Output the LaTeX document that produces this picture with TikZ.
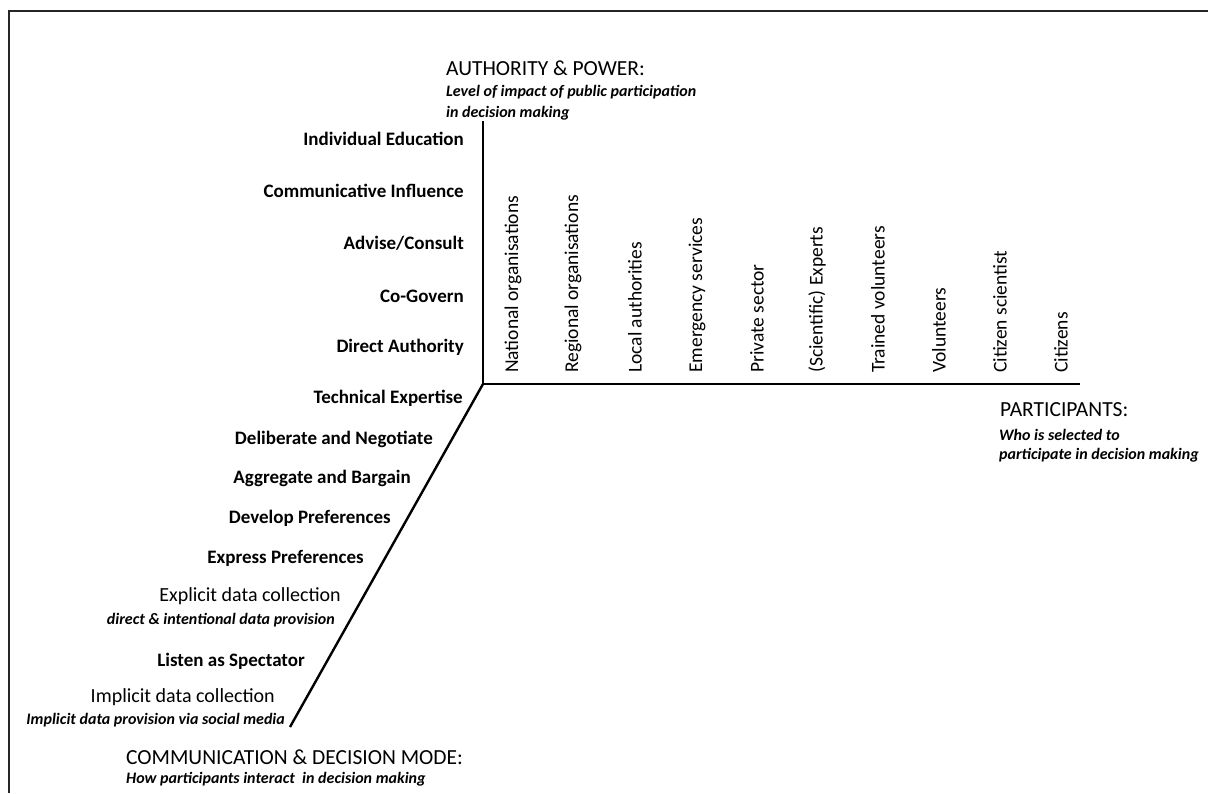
\documentclass[tikz,border=0pt]{standalone}
\usepackage{fontspec}
\setmainfont{Carlito}
\begin{document}
\begin{tikzpicture}[x=1pt,y=-1pt,
  frameline/.style={line width=1.8pt, black!85},
  axisline/.style={line width=2.4pt, black},
  levellbl/.style={anchor=east, inner sep=0pt, font=\fontsize{19}{22}\selectfont\bfseries},
  modelbl/.style={anchor=east, inner sep=0pt, font=\fontsize{20}{22}\selectfont},
  partlbl/.style={rotate=90, anchor=west, inner sep=0pt, font=\fontsize{19.5}{22}\selectfont},
  titlelbl/.style={anchor=west, inner sep=0pt, font=\fontsize{21.5}{24}\selectfont},
  sublbl/.style={anchor=west, inner sep=0pt, font=\fontsize{16}{18}\selectfont\bfseries\itshape},
  subrlbl/.style={anchor=east, inner sep=0pt, font=\fontsize{16}{18}\selectfont\bfseries\itshape}
]
\useasboundingbox (0,0) rectangle (1208,793);
\fill[white] (0,0) rectangle (1208,793);
% frame
\coordinate (ftl) at (9,11);
\coordinate (ftr) at (1208,11);
\coordinate (fbl) at (9,793);
\draw[frameline] (ftr) -- (ftl) -- (fbl);
% axes
\coordinate (O) at (483,384);
\coordinate (Ytop) at (483,121);
\coordinate (Xend) at (1080,384);
\coordinate (Zend) at (290,727);
\draw[axisline] (Ytop) -- (O) -- (Xend);
\draw[axisline] (O) -- (Zend);
% authority title
\node[titlelbl] (auth) at (446,68) {AUTHORITY \& POWER:};
\node[sublbl] (auths1) at (446,92) {Level of impact of public participation};
\node[sublbl] (auths2) at (446,113) {in decision making};
% authority levels
\node[levellbl] (l1) at (464,139) {Individual Education};
\node[levellbl] (l2) at (464,191) {Communicative Influence};
\node[levellbl] (l3) at (464,243) {Advise/Consult};
\node[levellbl] (l4) at (464,296) {Co-Govern};
\node[levellbl] (l5) at (464,347) {Direct Authority};
% participants
\node[partlbl] (p1) at (513,373) {National organisations};
\node[partlbl] (p2) at (573,373) {Regional organisations};
\node[partlbl] (p3) at (635,373) {Local authorities};
\node[partlbl] (p4) at (697,373) {Emergency services};
\node[partlbl] (p5) at (757,373) {Private sector};
\node[partlbl] (p6) at (817,373) {(Scientific) Experts};
\node[partlbl] (p7) at (878,373) {Trained volunteers};
\node[partlbl] (p8) at (939,373) {Volunteers};
\node[partlbl] (p9) at (1000,373) {Citizen scientist};
\node[partlbl] (p10) at (1061,373) {Citizens};
\node[titlelbl] (part) at (1000,410) {PARTICIPANTS:};
\node[sublbl] (parts1) at (999,435) {Who is selected to};
\node[sublbl] (parts2) at (999,455) {participate in decision making};
% communication modes
\node[levellbl] (m1) at (463,398) {Technical Expertise};
\node[levellbl] (m2) at (433,439) {Deliberate and Negotiate};
\node[levellbl] (m3) at (411,478) {Aggregate and Bargain};
\node[levellbl] (m4) at (391,518) {Develop Preferences};
\node[levellbl] (m5) at (364,558) {Express Preferences};
\node[modelbl] (m6) at (341,596) {Explicit data collection};
\node[subrlbl] (m6s) at (335,620) {direct \& intentional data provision};
\node[levellbl] (m7) at (305,661) {Listen as Spectator};
\node[modelbl] (m8) at (275,697) {Implicit data collection};
\node[subrlbl] (m8s) at (285,720) {Implicit data provision via social media};
\node[titlelbl] (comm) at (126,757) {COMMUNICATION \& DECISION MODE:};
\node[sublbl] (comms) at (126,779) {How participants interact\ \ in decision making};
\end{tikzpicture}
\end{document}
